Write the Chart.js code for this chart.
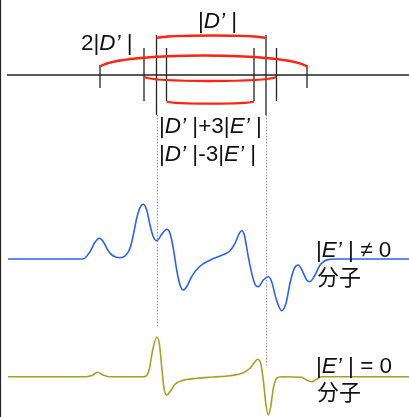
<!DOCTYPE html>
<html><head><meta charset="utf-8">
<script src="https://cdn.jsdelivr.net/npm/chart.js@4"></script>
<style>html,body{margin:0;padding:0;background:#fff;overflow:hidden}canvas{display:block}</style>
</head><body>
<canvas id="c" width="409" height="417"></canvas>
<script>
// ---------- data (arbitrary field units / intensity units) ----------
const fieldE1 = [8,80,83,90,95,99.3,103.3,108.3,113.3,120,125,130,133.3,136.7,140,143.3,146.7,150,153.3,156.7,161.7,166.7,170,173.3,176.7,180,183.3,186.7,191.7,199,210,220,230,235,239.3,241.7,244.3,248.3,251.7,255,258.3,263.3,268.3,271.7,276,281.7,286,290,294.3,298.3,302.7,306.7,310,315,320,325,330,336,409];
const signalE1 = [0,0,0,7.3,16.7,20.7,17.3,8,3,1.3,3,10.7,24,40.7,51.3,54.7,49,34,22.3,18.3,24.7,29.7,25.7,10.7,-11,-26,-31,-27.7,-17.7,-8,-1.2,3,8.3,15.7,25.7,28.3,24,2.3,-14.3,-25.3,-27.7,-21,-17.7,-22.7,-39.3,-51.7,-44.3,-24.3,-9.3,-6,-12.7,-21,-22.7,-16,-6,-1.7,-0.3,0,0];

const fieldE0 = [8,86,92,97.7,103,109,143,146,149.3,152.7,156.7,159.3,161.7,164,166.7,170,175,181.7,196.7,213.3,230,243.3,250,255,257.7,260.7,263.3,266,268.3,270.7,273.3,276.7,281.7,301.7,306.7,311.7,316.7,321.7,409];
const signalE0 = [0,0,1.2,4.4,1.7,0,0,0.7,7.4,26.7,39.4,33.4,10,-11.6,-18.3,-15,-7.6,-4,-1.6,-0.3,1,4,8.4,15,17.4,13.4,-3.3,-28.3,-38.3,-30,-11.6,-1.6,0,-0.6,-3.3,-5,-2.6,0,0];

// resonance field positions of the stick diagram
const resonanceFields = [100, 144, 156.5, 166.5, 254, 266, 276.5, 307];
// splittings: pairs of resonance indices and their labels
const splitPairs = [[0,7],[2,5],[1,6],[3,4]];
const splitLabels = ['2|D’ |', '|D’ |', '|D’ |+3|E’ |', '|D’ |-3|E’ |'];
const spectrumLabels = [['|E’ | ≠ 0', '分子'], ['|E’ | = 0', '分子']];

// ---------- layout & style (value units of the chart scales) ----------
const baseE1 = 158, baseE0 = 40.3, stickLevel = 342;
const tickExt = [[10,13],[27,26],[40,40],[27,26],[27,26],[40,40],[27,26],[10,13]];
const arcGeom = [{end:350.5,bulge:11},{end:379,bulge:2.5},{end:340,bulge:-4},{end:315.5,bulge:-2.2}];
const dotEnds = [{idx:2,top:302,bottom:90},{idx:5,top:302,bottom:51}];
const RED = '#ff2410', BLUE = '#2c62f2', OLIVE = '#a9a020';
const FONT = '"Liberation Sans", Arial, Helvetica, sans-serif';
const CJK = '"Noto Sans CJK SC","Noto Sans CJK JP",sans-serif';

function pts(xs, ys, off){ return xs.map((x,i)=>({x:x, y:ys[i]+off})); }

function richSegments(s){
  const segs=[]; let i=0;
  while(i<s.length){
    const ch=s[i];
    if((ch==='D'||ch==='E') && s[i+1]==='’'){ segs.push([ch+'’',true]); i+=2; }
    else { let j=i; while(j<s.length && !((s[j]==='D'||s[j]==='E')&&s[j+1]==='’')) j++; segs.push([s.slice(i,j),false]); i=j; }
  }
  return segs;
}
function drawRich(ctx, s, x, y, size){
  let cx=x;
  for(const [t,it] of richSegments(s)){
    ctx.font=(it?'italic ':'')+size+'px '+FONT;
    ctx.fillText(t,cx,y);
    cx+=ctx.measureText(t).width;
  }
}

const diagram = {
  id:'diagram',
  beforeDatasetsDraw(chart){
    const {ctx, scales:{x:X, y:Y}, chartArea:a} = chart;
    ctx.save();
    ctx.strokeStyle='#222'; ctx.lineWidth=1.2;
    ctx.beginPath(); ctx.moveTo(a.left+0.5,a.top); ctx.lineTo(a.left+0.5,a.bottom); ctx.stroke();
    ctx.strokeStyle='#9a9a9a'; ctx.lineWidth=1; ctx.setLineDash([1.5,1.5]);
    for(const d of dotEnds){
      const px=Math.round(X.getPixelForValue(resonanceFields[d.idx]))+0.5;
      ctx.beginPath(); ctx.moveTo(px,Y.getPixelForValue(d.top)); ctx.lineTo(px,Y.getPixelForValue(d.bottom)); ctx.stroke();
    }
    ctx.setLineDash([]);
    ctx.strokeStyle='#222'; ctx.lineWidth=1.3;
    const ly=Y.getPixelForValue(stickLevel);
    ctx.beginPath(); ctx.moveTo(X.getPixelForValue(7),ly); ctx.lineTo(X.getPixelForValue(409),ly); ctx.stroke();
    resonanceFields.forEach((f,i)=>{
      const px=X.getPixelForValue(f);
      ctx.beginPath(); ctx.moveTo(px,Y.getPixelForValue(stickLevel+tickExt[i][0])); ctx.lineTo(px,Y.getPixelForValue(stickLevel-tickExt[i][1])); ctx.stroke();
    });
    ctx.strokeStyle=RED; ctx.lineWidth=2.3;
    splitPairs.forEach((p,i)=>{
      const g=arcGeom[i];
      const x0=X.getPixelForValue(resonanceFields[p[0]]), x1=X.getPixelForValue(resonanceFields[p[1]]);
      const w=x1-x0, y0=Y.getPixelForValue(g.end), k=Y.getPixelForValue(g.end+g.bulge/0.75)-y0;
      ctx.beginPath(); ctx.moveTo(x0,y0);
      ctx.bezierCurveTo(x0+0.1*w,y0+k,x1-0.1*w,y0+k,x1,y0);
      ctx.stroke();
    });
    ctx.restore();
  },
  afterDraw(chart){
    const {ctx, scales:{x:X}} = chart;
    ctx.save(); ctx.fillStyle='#111'; ctx.textBaseline='alphabetic';
    const S=22.5;
    const pos=[[81,50],[198,28],[159,133],[159,161]];
    splitLabels.forEach((t,i)=>drawRich(ctx,t,X.getPixelForValue(pos[i][0]),pos[i][1],S));
    const spos=[[316,257,285],[316,373,400]];
    spectrumLabels.forEach((l,i)=>{
      drawRich(ctx,l[0],X.getPixelForValue(spos[i][0]),spos[i][1],S);
      ctx.font='22px '+CJK; ctx.fillText(l[1],X.getPixelForValue(spos[i][0]+1),spos[i][2]);
    });
    ctx.restore();
  }
};

new Chart(document.getElementById('c'), {
  type:'line',
  data:{ datasets:[
    {data:pts(fieldE1,signalE1,baseE1), borderColor:BLUE, borderWidth:1.6, cubicInterpolationMode:'monotone', pointRadius:0, fill:false},
    {data:pts(fieldE0,signalE0,baseE0), borderColor:OLIVE, borderWidth:1.6, cubicInterpolationMode:'monotone', pointRadius:0, fill:false}
  ]},
  options:{
    responsive:false, animation:false, devicePixelRatio:1,
    layout:{padding:0},
    plugins:{legend:{display:false}, tooltip:{enabled:false}},
    scales:{
      x:{type:'linear', min:0, max:409, display:false},
      y:{type:'linear', min:0, max:417, display:false}
    }
  },
  plugins:[diagram]
});
</script>
</body></html>
